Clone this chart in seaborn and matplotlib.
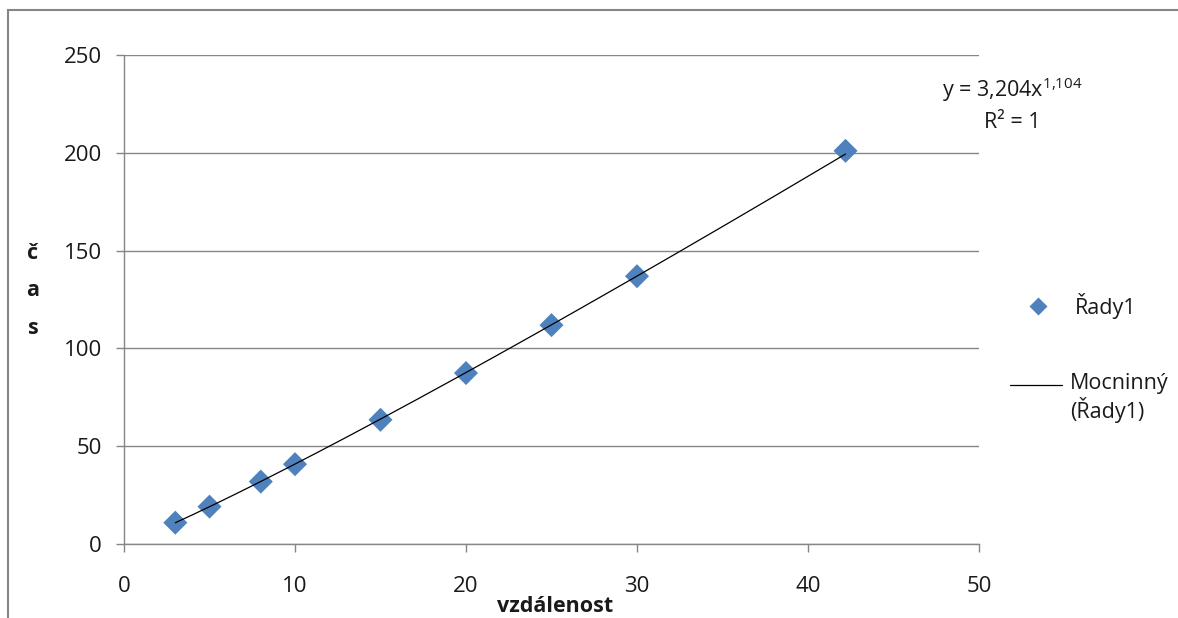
import numpy as np
import pandas as pd
import matplotlib
matplotlib.use("Agg")
import matplotlib.pyplot as plt
import seaborn as sns
from matplotlib.lines import Line2D
from matplotlib.patches import Rectangle

# ---- data ----
vzdalenost = [3, 5, 8, 10, 15, 20, 25, 30, 42.195]
cas = [10.9, 19.1, 31.9, 40.8, 63.5, 87.4, 111.9, 136.9, 201.0]
series_name = "Řady1"
trend_name = "Mocninný\n(Řady1)"
x_ticks = [0, 10, 20, 30, 40, 50]
y_ticks = [0, 50, 100, 150, 200, 250]
eq_text = "y = 3,204x$^{1{,}104}$"
r2_text = "R² = 1"

sns.set_theme(style="white")
plt.rcParams['font.family'] = ['Open Sans', 'DejaVu Sans']
plt.rcParams['mathtext.fontset'] = 'custom'
plt.rcParams['mathtext.rm'] = 'Open Sans'
plt.rcParams['mathtext.it'] = 'Open Sans'
plt.rcParams['mathtext.default'] = 'regular'

df = pd.DataFrame({"vzdalenost": vzdalenost, "cas": cas})

# power fit (trendline)
b, ln_a = np.polyfit(np.log(df["vzdalenost"]), np.log(df["cas"]), 1)
xs = np.linspace(min(vzdalenost), max(vzdalenost), 200)
trend = pd.DataFrame({"x": xs, "y": np.exp(ln_a) * xs ** b})

W, H = 1178, 618
fig = plt.figure(figsize=(W/100, H/100), dpi=100)
ax = fig.add_axes([124/W, 1-544/H, (979-124)/W, (544-55)/H])

grey = "#868686"
txt = "#1a1a1a"
blue = "#4F81BD"
ax.set_xlim(0, 50)
ax.set_ylim(0, 250)
ax.set_xticks(x_ticks)
ax.set_yticks(y_ticks)
ax.yaxis.grid(True, color=grey, linewidth=1)
ax.xaxis.grid(False)
ax.set_axisbelow(True)

sns.scatterplot(data=df, x="vzdalenost", y="cas", ax=ax, marker="D", s=150,
                color=blue, edgecolor="none", zorder=2, legend=False)
sns.lineplot(data=trend, x="x", y="y", ax=ax, color="black", linewidth=0.9, zorder=3)

for s in ["top", "right"]:
    ax.spines[s].set_visible(False)
for s in ["left", "bottom"]:
    ax.spines[s].set_color(grey)
    ax.spines[s].set_linewidth(1)
ax.tick_params(axis="both", which="major", direction="out", length=6, width=1,
               color=grey, labelsize=16, labelcolor=txt, left=True, bottom=True)
ax.tick_params(axis="x", pad=17)
ax.tick_params(axis="y", pad=10)

ax.set_xlabel("")
ax.set_ylabel("")
fig.text(555/W, 1-606/H, "vzdálenost", ha="center", va="center",
         fontsize=15.5, fontweight="bold", color=txt)
fig.text(33/W, 1-291/H, "č\na\ns", ha="center", va="center",
         fontsize=15.5, fontweight="bold", color=txt, linespacing=2.05)

fig.text(1012/W, 1-90/H, eq_text, ha="center", va="center", fontsize=15.5, color=txt)
fig.text(1012/W, 1-122/H, r2_text, ha="center", va="center", fontsize=15.5, color=txt)

# legend drawn by hand to match placement
fig.add_artist(Line2D([1038/W], [1-306/H], marker="D", color="none",
                      markerfacecolor=blue, markeredgecolor="none", markersize=9,
                      transform=fig.transFigure))
fig.text(1075/W, 1-306/H, series_name, ha="left", va="center", fontsize=15.5, color=txt)
fig.add_artist(Line2D([1010/W, 1062/W], [1-385/H, 1-385/H], color="black",
                      linewidth=0.9, transform=fig.transFigure))
fig.text(1070/W, 1-373/H, trend_name, ha="left", va="top", fontsize=15.5,
         color=txt, linespacing=1.15)

# chart border
fig.patches.append(Rectangle((8/W, -0.05), 1.1, 1-10/H+0.05, transform=fig.transFigure,
                             fill=False, edgecolor=grey, linewidth=1.5))

fig.savefig("out.png", dpi=100)
